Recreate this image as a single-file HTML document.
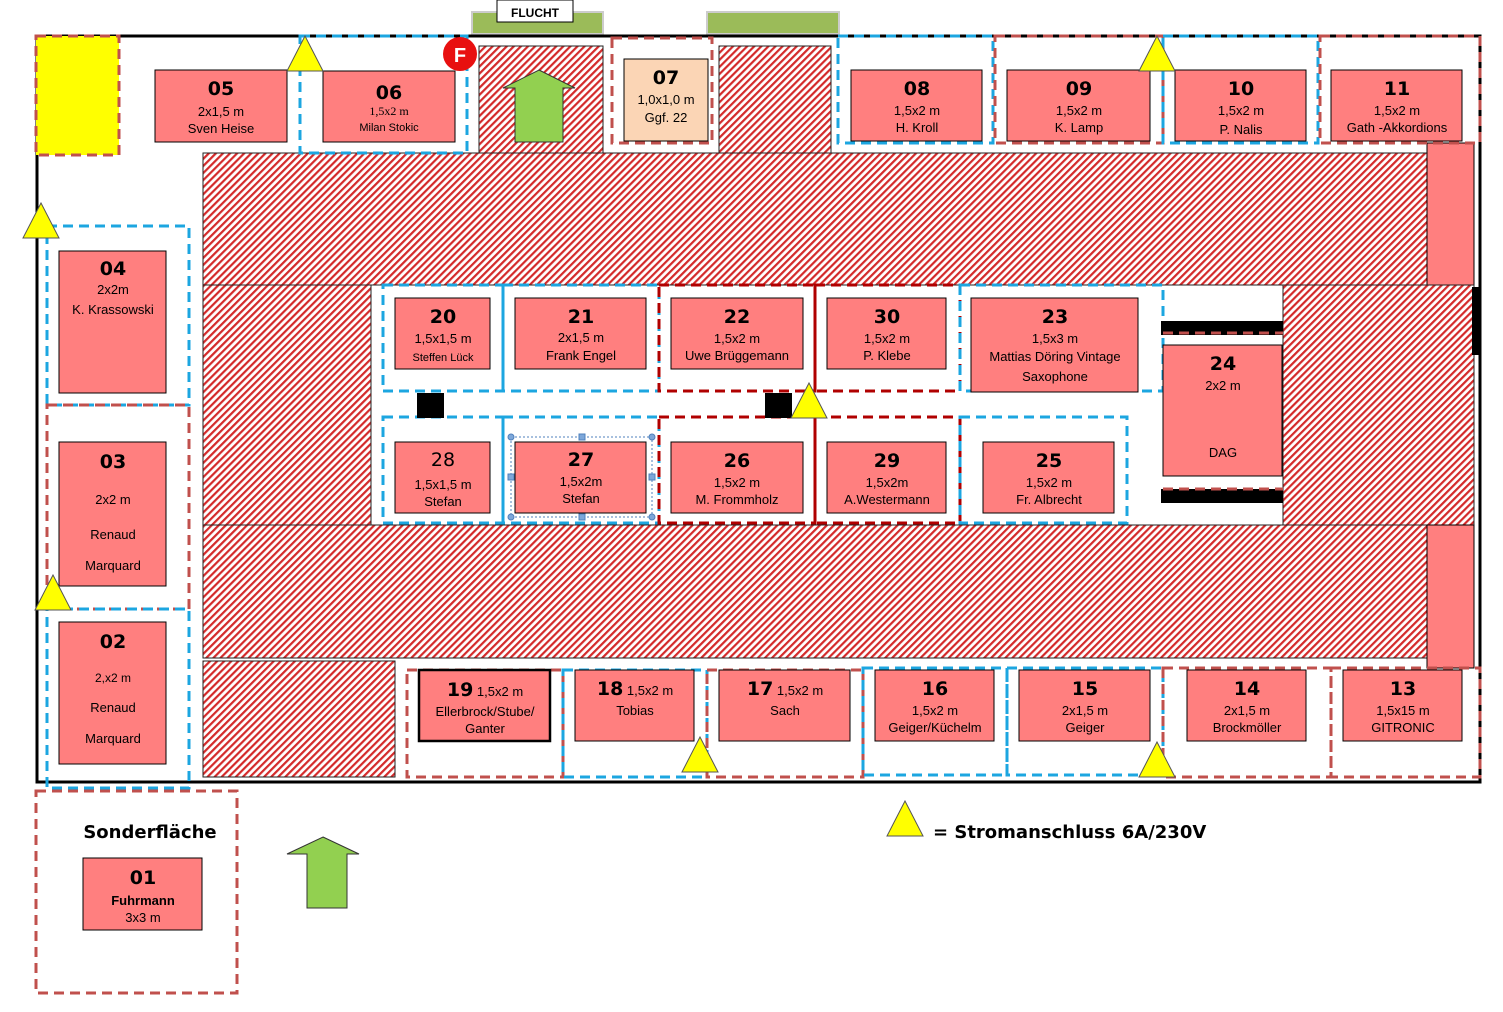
<!DOCTYPE html>
<html><head><meta charset="utf-8"><style>
html,body{margin:0;padding:0;background:#fff;}
svg{display:block;font-family:"Liberation Sans",sans-serif;}
.n{font-weight:bold;font-size:19px;text-anchor:middle;font-family:"DejaVu Sans",sans-serif;}
.t{font-size:13px;text-anchor:middle;}
.s{font-size:11px;text-anchor:middle;}
.b{fill:#FF7F7F;stroke:#000;stroke-width:1;}
.h{fill:url(#hatch);stroke:#222;stroke-width:1;}
.bl{fill:none;stroke:#1CA6E0;stroke-width:3;stroke-dasharray:10 6;}
.rd{fill:none;stroke:#C0504D;stroke-width:3;stroke-dasharray:10 6;}
.dr{fill:none;stroke:#B00000;stroke-width:3;stroke-dasharray:10 6;}
.tri{fill:#FFFF00;stroke:#555;stroke-width:1;}
.arr{fill:#92D050;stroke:#333;stroke-width:1;}
</style></head><body>
<svg width="1503" height="1012" viewBox="0 0 1503 1012" xmlns="http://www.w3.org/2000/svg">
<defs>
<pattern id="hatch" patternUnits="userSpaceOnUse" width="5" height="5" patternTransform="rotate(45)">
<rect width="5" height="5" fill="#fff"/><rect width="2.2" height="5" fill="#D42A2A"/>
</pattern>
</defs>
<rect x="472" y="12" width="131" height="22" fill="#9BBB59" stroke="#ccc" stroke-width="2"/>
<rect x="707" y="12" width="132" height="22" fill="#9BBB59" stroke="#ccc" stroke-width="2"/>
<rect x="497" y="0" width="76" height="22" fill="#fff" stroke="#000" stroke-width="1"/>
<text x="535" y="17" style="font-size:12px;font-weight:bold;text-anchor:middle">FLUCHT</text>
<rect x="37" y="36" width="1443" height="746" fill="none" stroke="#000" stroke-width="3"/>
<rect class="h" x="203" y="153" width="1224" height="132"/>
<rect x="1427" y="143" width="47" height="142" fill="#FF7F7F" stroke="#000"/>
<rect class="h" x="203" y="285" width="168" height="240"/>
<rect class="h" x="1283" y="285" width="191" height="240"/>
<rect class="h" x="203" y="525" width="1224" height="133"/>
<rect x="1427" y="525" width="47" height="143" fill="#FF7F7F" stroke="#000"/>
<rect class="h" x="203" y="661" width="192" height="116"/>
<rect class="h" x="479" y="46" width="124" height="107"/>
<rect class="h" x="719" y="46" width="112" height="107"/>
<rect x="1472" y="287" width="8" height="68" fill="#000"/>
<rect x="36" y="36" width="83" height="119" fill="#FFFF00"/>
<rect class="rd" x="36" y="36" width="83" height="119"/>
<rect class="bl" x="300" y="36" width="167" height="117"/>
<rect class="rd" x="612" y="38" width="100" height="105"/>
<rect class="bl" x="838" y="36" width="155" height="107"/>
<rect class="rd" x="995" y="36" width="168" height="107"/>
<rect class="bl" x="1163" y="36" width="155" height="107"/>
<rect class="rd" x="1320" y="36" width="160" height="107"/>
<rect class="bl" x="47" y="226" width="142" height="179"/>
<rect class="rd" x="47" y="405" width="142" height="204"/>
<rect class="bl" x="47" y="609" width="142" height="179"/>
<rect class="rd" x="36" y="791" width="201" height="202"/>
<rect class="bl" x="383" y="285" width="120" height="106"/>
<rect class="bl" x="503" y="285" width="156" height="106"/>
<rect class="dr" x="659" y="285" width="156" height="106"/>
<rect class="dr" x="815" y="285" width="145" height="106"/>
<rect class="bl" x="960" y="285" width="203" height="106"/>
<rect class="bl" x="383" y="417" width="120" height="106"/>
<rect class="bl" x="503" y="417" width="156" height="106"/>
<rect class="dr" x="659" y="417" width="156" height="106"/>
<rect class="dr" x="815" y="417" width="145" height="106"/>
<rect class="bl" x="960" y="417" width="167" height="106"/>
<rect class="rd" x="407" y="670" width="156" height="107"/>
<rect class="bl" x="563" y="670" width="144" height="107"/>
<rect class="rd" x="707" y="670" width="156" height="107"/>
<rect class="bl" x="863" y="668" width="144" height="107"/>
<rect class="bl" x="1007" y="668" width="156" height="107"/>
<rect class="rd" x="1163" y="668" width="168" height="109"/>
<rect class="rd" x="1331" y="668" width="149" height="109"/>
<rect x="417" y="393" width="27" height="25" fill="#000"/>
<rect x="765" y="393" width="27" height="25" fill="#000"/>
<rect x="1161" y="321" width="122" height="14" fill="#000"/>
<rect x="1161" y="489" width="122" height="14" fill="#000"/>
<line x1="1163" y1="333" x2="1283" y2="333" stroke="#C0504D" stroke-width="3" stroke-dasharray="10 6"/>
<line x1="1163" y1="489" x2="1283" y2="489" stroke="#C0504D" stroke-width="3" stroke-dasharray="10 6"/>
<rect class="b" x="155" y="70" width="132" height="72"/>
<rect class="b" x="323" y="71" width="132" height="71"/>
<rect x="624" y="59" width="84" height="82" fill="#FBD5B5" stroke="#000"/>
<rect class="b" x="851" y="70" width="131" height="71"/>
<rect class="b" x="1007" y="70" width="143" height="71"/>
<rect class="b" x="1175" y="70" width="131" height="71"/>
<rect class="b" x="1331" y="70" width="131" height="71"/>
<rect class="b" x="59" y="251" width="107" height="142"/>
<rect class="b" x="59" y="442" width="107" height="144"/>
<rect class="b" x="59" y="622" width="107" height="142"/>
<rect class="b" x="395" y="298" width="95" height="71"/>
<rect class="b" x="515" y="298" width="131" height="71"/>
<rect class="b" x="671" y="298" width="132" height="71"/>
<rect class="b" x="827" y="298" width="119" height="71"/>
<rect class="b" x="971" y="298" width="167" height="94"/>
<rect class="b" x="1163" y="345" width="119" height="131"/>
<rect class="b" x="395" y="442" width="95" height="71"/>
<rect class="b" x="515" y="442" width="131" height="71"/>
<rect class="b" x="671" y="442" width="132" height="71"/>
<rect class="b" x="827" y="442" width="119" height="71"/>
<rect class="b" x="983" y="442" width="131" height="71"/>
<rect class="b" x="419" y="670" width="131" height="71" style="stroke-width:2.5"/>
<rect class="b" x="575" y="670" width="119" height="71"/>
<rect class="b" x="719" y="670" width="131" height="71"/>
<rect class="b" x="875" y="670" width="119" height="71"/>
<rect class="b" x="1019" y="670" width="131" height="71"/>
<rect class="b" x="1187" y="670" width="119" height="71"/>
<rect class="b" x="1343" y="670" width="119" height="71"/>
<rect class="b" x="83" y="858" width="119" height="72"/>
<rect x="511" y="437" width="141" height="80" fill="none" stroke="#4F81BD" stroke-width="1" stroke-dasharray="2 2"/>
<g fill="#7DA7D9" stroke="#4F81BD">
<circle cx="511" cy="437" r="3"/><circle cx="652" cy="437" r="3"/><circle cx="511" cy="517" r="3"/><circle cx="652" cy="517" r="3"/>
<rect x="579" y="434" width="6" height="6"/><rect x="579" y="514" width="6" height="6"/><rect x="508" y="474" width="6" height="6"/><rect x="649" y="474" width="6" height="6"/>
</g>
<text class="n" x="221" y="95">05</text><text class="t" x="221" y="116">2x1,5 m</text><text class="t" x="221" y="133">Sven Heise</text>
<text class="n" x="389" y="99">06</text><text class="s" x="389" y="115" style="font-family:'Liberation Serif',serif;font-size:12px">1,5x2 m</text><text class="s" x="389" y="131">Milan Stokic</text>
<text class="n" x="666" y="84">07</text><text class="t" x="666" y="104">1,0x1,0 m</text><text class="t" x="666" y="122">Ggf. 22</text>
<text class="n" x="917" y="95">08</text><text class="t" x="917" y="115">1,5x2 m</text><text class="t" x="917" y="132">H. Kroll</text>
<text class="n" x="1079" y="95">09</text><text class="t" x="1079" y="115">1,5x2 m</text><text class="t" x="1079" y="132">K. Lamp</text>
<text class="n" x="1241" y="95">10</text><text class="t" x="1241" y="115">1,5x2 m</text><text class="t" x="1241" y="134">P. Nalis</text>
<text class="n" x="1397" y="95">11</text><text class="t" x="1397" y="115">1,5x2 m</text><text class="t" x="1397" y="132">Gath -Akkordions</text>
<text class="n" x="113" y="275">04</text><text class="t" x="113" y="294">2x2m</text><text class="t" x="113" y="314">K. Krassowski</text>
<text class="n" x="113" y="468">03</text><text class="t" x="113" y="504">2x2 m</text><text class="t" x="113" y="539">Renaud</text><text class="t" x="113" y="570">Marquard</text>
<text class="n" x="113" y="648">02</text><text class="t" x="113" y="682" style="font-size:12px">2,x2 m</text><text class="t" x="113" y="712">Renaud</text><text class="t" x="113" y="743">Marquard</text>
<text class="n" x="443" y="323">20</text><text class="t" x="443" y="343">1,5x1,5 m</text><text class="s" x="443" y="361">Steffen Lück</text>
<text class="n" x="581" y="323">21</text><text class="t" x="581" y="342">2x1,5 m</text><text class="t" x="581" y="360">Frank Engel</text>
<text class="n" x="737" y="323">22</text><text class="t" x="737" y="343">1,5x2 m</text><text class="t" x="737" y="360">Uwe Brüggemann</text>
<text class="n" x="887" y="323">30</text><text class="t" x="887" y="343">1,5x2 m</text><text class="t" x="887" y="360">P. Klebe</text>
<text class="n" x="1055" y="323">23</text><text class="t" x="1055" y="343">1,5x3 m</text><text class="t" x="1055" y="361">Mattias Döring Vintage</text><text class="t" x="1055" y="381">Saxophone</text>
<text class="n" x="1223" y="370">24</text><text class="t" x="1223" y="390">2x2 m</text><text class="t" x="1223" y="457">DAG</text>
<text class="n" x="443" y="466" style="font-weight:normal">28</text><text class="t" x="443" y="489">1,5x1,5 m</text><text class="t" x="443" y="506">Stefan</text>
<text class="n" x="581" y="466">27</text><text class="t" x="581" y="486">1,5x2m</text><text class="t" x="581" y="503">Stefan</text>
<text class="n" x="737" y="467">26</text><text class="t" x="737" y="487">1,5x2 m</text><text class="t" x="737" y="504">M. Frommholz</text>
<text class="n" x="887" y="467">29</text><text class="t" x="887" y="487">1,5x2m</text><text class="t" x="887" y="504">A.Westermann</text>
<text class="n" x="1049" y="467">25</text><text class="t" x="1049" y="487">1,5x2 m</text><text class="t" x="1049" y="504">Fr. Albrecht</text>
<text x="485" y="696" style="text-anchor:middle"><tspan style="font-weight:bold;font-size:19px;font-family:'DejaVu Sans',sans-serif">19</tspan><tspan style="font-size:13px"> 1,5x2 m</tspan></text><text class="t" x="485" y="716">Ellerbrock/Stube/</text><text class="t" x="485" y="733">Ganter</text>
<text x="635" y="695" style="text-anchor:middle"><tspan style="font-weight:bold;font-size:19px;font-family:'DejaVu Sans',sans-serif">18</tspan><tspan style="font-size:13px"> 1,5x2 m</tspan></text><text class="t" x="635" y="715">Tobias</text>
<text x="785" y="695" style="text-anchor:middle"><tspan style="font-weight:bold;font-size:19px;font-family:'DejaVu Sans',sans-serif">17</tspan><tspan style="font-size:13px"> 1,5x2 m</tspan></text><text class="t" x="785" y="715">Sach</text>
<text class="n" x="935" y="695">16</text><text class="t" x="935" y="715">1,5x2 m</text><text class="t" x="935" y="732">Geiger/Küchelm</text>
<text class="n" x="1085" y="695">15</text><text class="t" x="1085" y="715">2x1,5 m</text><text class="t" x="1085" y="732">Geiger</text>
<text class="n" x="1247" y="695">14</text><text class="t" x="1247" y="715">2x1,5 m</text><text class="t" x="1247" y="732">Brockmöller</text>
<text class="n" x="1403" y="695">13</text><text class="t" x="1403" y="715">1,5x15 m</text><text class="t" x="1403" y="732">GITRONIC</text>
<text class="n" x="143" y="884">01</text><text x="143" y="905" style="font-size:13px;font-weight:bold;text-anchor:middle">Fuhrmann</text><text class="t" x="143" y="922">3x3 m</text>
<text x="150" y="838" style="font-size:18px;font-weight:bold;text-anchor:middle;font-family:'DejaVu Sans',sans-serif">Sonderfläche</text>
<text x="933" y="838" style="font-size:18px;font-weight:bold;font-family:'DejaVu Sans',sans-serif">= Stromanschluss 6A/230V</text>
<circle cx="460" cy="54" r="17" fill="#E81010"/>
<text x="460" y="62" style="font-size:20px;font-weight:bold;fill:#fff;text-anchor:middle">F</text>
<polygon class="arr" points="539,70 575,88 563,88 563,142 515,142 515,88 503,88"/>
<polygon class="arr" points="323,837 359,854 347,854 347,908 307,908 307,854 287,854"/>
<polygon class="tri" points="305,36 323,71 287,71"/>
<polygon class="tri" points="41,203 59,238 23,238"/>
<polygon class="tri" points="53,575 71,610 35,610"/>
<polygon class="tri" points="809,383 827,418 791,418"/>
<polygon class="tri" points="1157,36 1175,71 1139,71"/>
<polygon class="tri" points="700,737 718,772 682,772"/>
<polygon class="tri" points="1157,742 1175,777 1139,777"/>
<polygon class="tri" points="905,801 923,836 887,836"/>
</svg>
</body></html>
